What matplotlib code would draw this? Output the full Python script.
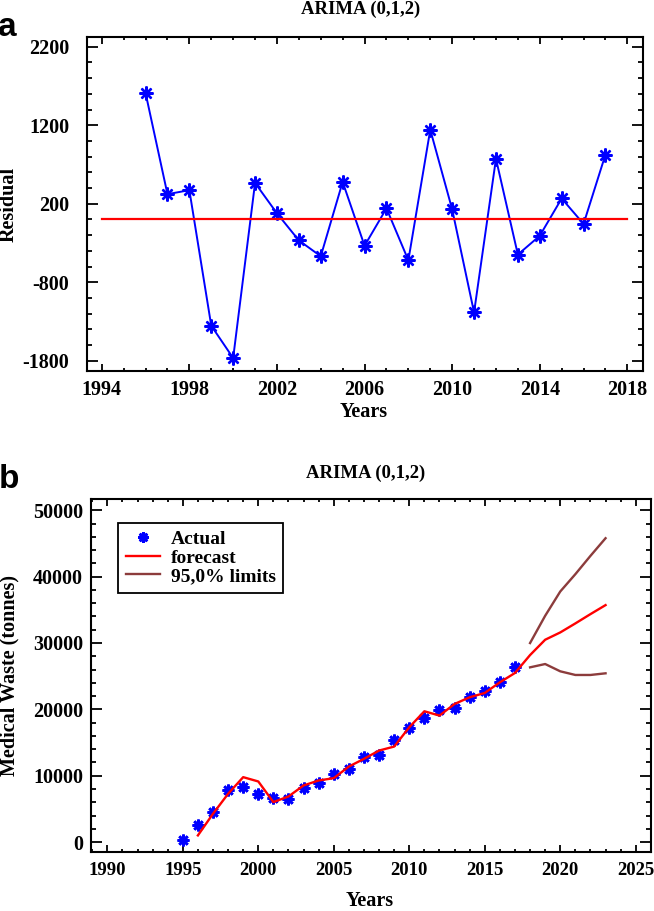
import numpy as np
import matplotlib
matplotlib.use("Agg")
from matplotlib import pyplot as plt
from matplotlib.ticker import MultipleLocator, FixedLocator

# panel a: residuals of the ARIMA (0,1,2) fit
res_years = list(range(1996, 2018))
residuals = [1611, 322, 373, -1354, -1766, 465, 78, -267, -469, 478, -335,
             141, -520, 1143, 128, -1185, 773, -448, -208, 267, -57, 827]

# panel b: actual medical waste and forecast
act_years = list(range(1995, 2018))
actual = [250, 2500, 4600, 7770, 8370, 7270, 6620, 6470, 8120, 8880, 10330,
          11080, 12790, 13190, 15450, 17200, 18660, 19960, 20160, 21820,
          22720, 24070, 26430]
fc_years = list(range(1996, 2024))
forecast = [1000, 4260, 7270, 9780, 9130, 6020, 6870, 8530, 9280, 9630,
            11380, 12540, 13790, 14390, 17300, 19710, 19060, 20810, 21820,
            22470, 24070, 25480, 28180, 30490, 31590, 32950, 34350, 35710]
lim_years = list(range(2018, 2024))
upper = [29990, 34100, 37760, 40370, 43130, 45790]
lower = [26330, 26830, 25730, 25180, 25180, 25430]

serif = 'Liberation Serif'
plt.rcParams['font.family'] = serif
plt.rcParams['font.weight'] = 'bold'
plt.rcParams['axes.unicode_minus'] = False

W, H = 654, 911
fig = plt.figure(figsize=(W / 100, H / 100), dpi=100)

def frac(x0, y0, x1, y1):
    return [x0 / W, 1 - y1 / H, (x1 - x0) / W, (y1 - y0) / H]

def style_axes(ax, ypad):
    for s in ax.spines.values():
        s.set_linewidth(1.5)
    ax.tick_params(which='both', direction='in', top=True, right=True,
                   width=1.3, labelsize=14.5)
    ax.tick_params(axis='y', which='major', length=8, pad=ypad)
    ax.tick_params(axis='y', which='minor', length=3.5)
    ax.tick_params(axis='x', which='major', length=5, pad=7)
    ax.tick_params(axis='x', which='minor', length=2.5)
    for lab in ax.get_xticklabels() + ax.get_yticklabels():
        lab.set_fontweight('bold')

# ---- panel a
ax1 = fig.add_axes(frac(87.3, 36.7, 642.7, 370.7))
ax1.plot(res_years, residuals, color='#0000ff', lw=1.4,
         marker=(8, 2, 0), ms=10, mew=1.7, mec='#0000ff')
ax1.plot([1994, 2018], [0, 0], color='#ff0000', lw=1.6)
ax1.set_xlim(1993.34, 2018.7)
ax1.set_ylim(-1927, 2328)
ax1.xaxis.set_major_locator(FixedLocator(range(1994, 2019, 4)))
ax1.xaxis.set_minor_locator(MultipleLocator(1))
ax1.yaxis.set_major_locator(FixedLocator([-1800, -800, 200, 1200, 2200]))
ax1.yaxis.set_minor_locator(FixedLocator(range(-1800, 2300, 200)))
style_axes(ax1, 13)

# ---- panel b
ax2 = fig.add_axes(frac(91.3, 499, 650.7, 852))
ax2.plot(act_years, actual, ls='none', marker=(8, 2, 0), ms=8.5, mew=1.9,
         mec='#0000ff', color='#0000ff', label='Actual')
ax2.plot(fc_years, forecast, color='#ff0000', lw=1.7, label='forecast')
ax2.plot(lim_years, upper, color='#8c3c3c', lw=1.7, label='95,0% limits')
ax2.plot(lim_years, lower, color='#8c3c3c', lw=1.7)
ax2.set_xlim(1988.94, 2025.99)
ax2.set_ylim(-1500, 51700)
ax2.xaxis.set_major_locator(MultipleLocator(5))
ax2.xaxis.set_minor_locator(MultipleLocator(1))
ax2.yaxis.set_major_locator(MultipleLocator(10000))
ax2.yaxis.set_minor_locator(MultipleLocator(2000))
style_axes(ax2, 6)
ax2.tick_params(axis='x', labelsize=13.5)

leg = ax2.legend(loc='upper left', bbox_to_anchor=(0.048, 0.933),
                 borderaxespad=0, fancybox=False, framealpha=1,
                 edgecolor='black', handlelength=1.75, handletextpad=0.55,
                 labelspacing=0.05, borderpad=0.4, markerscale=0.9,
                 prop={'family': serif, 'weight': 'bold', 'size': 14})
leg.get_frame().set_linewidth(1.3)

# ---- texts
fig.text(361 / W, 1 - 9 / H, 'ARIMA (0,1,2)', ha='center', va='center',
         fontsize=13.5, fontweight='bold')
fig.text(366 / W, 1 - 473 / H, 'ARIMA (0,1,2)', ha='center', va='center',
         fontsize=13.5, fontweight='bold')
fig.text(364 / W, 1 - 411.7 / H, 'Years', ha='center', va='center',
         fontsize=14.5, fontweight='bold')
fig.text(370 / W, 1 - 901 / H, 'Years', ha='center', va='center',
         fontsize=14.5, fontweight='bold')
fig.text(8.5 / W, 1 - 204 / H, 'Residual', ha='center', va='center',
         rotation=90, fontsize=14.5, fontweight='bold')
fig.text(9 / W, 1 - 675.5 / H, 'Medical Waste (tonnes)', ha='center',
         va='center', rotation=90, fontsize=14.5, fontweight='bold')
fig.text(7.5 / W, 1 - 28 / H, 'a', ha='center', va='center', fontsize=24,
         fontweight='bold', family='Liberation Sans')
fig.text(9 / W, 1 - 480 / H, 'b', ha='center', va='center', fontsize=24,
         fontweight='bold', family='Liberation Sans')

fig.savefig('out.png', dpi=100)
